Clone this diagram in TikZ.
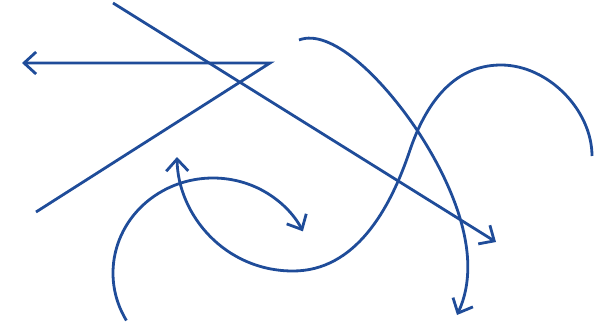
\documentclass[tikz,border=0pt]{standalone}
\usepackage{xcolor}
\usetikzlibrary{arrows.meta}
\definecolor{inkblue}{RGB}{31,76,153}
\tikzset{
  strokeline/.style={draw=inkblue, line width=2.8pt},
  strokearrow/.style={strokeline, -{Straight Barb[length=12pt, width=22pt]}},
  strokebackarrow/.style={strokeline, {Straight Barb[length=12pt, width=22pt]}-}
}

\begin{document}
\begin{tikzpicture}[x=1pt, y=-1pt]
\useasboundingbox (0,0) rectangle (597,327);
% straight strokes
\coordinate (diagA) at (113,3);
\coordinate (diagB) at (496,242);
\coordinate (zigA) at (36,212);
\coordinate (zigB) at (270,63);
\coordinate (zigC) at (22,63);
\draw[strokearrow] (diagA) -- (diagB);
\draw[strokearrow] (zigA) -- (zigB) -- (zigC);
% arc on the lower left
\coordinate (arcA) at (126.4,320.5);
\draw[strokearrow] (arcA) arc[start angle=150, end angle=334, x radius=100, y radius=95];
% long s-curve
\coordinate (sA) at (177,157);
\coordinate (sB) at (293,271);
\coordinate (sC) at (410,150);
\coordinate (sD) at (501,65);
\coordinate (sE) at (592,156);
\draw[strokebackarrow] (sA) .. controls (178,215) and (225,271) .. (sB)
  .. controls (355,271) and (390,210) .. (sC)
  .. controls (425,106) and (452,65) .. (sD)
  .. controls (548,65) and (592,110) .. (sE);
% falling curve
\coordinate (fA) at (299,40);
\coordinate (fB) at (417,130);
\coordinate (fC) at (457,315);
\draw[strokearrow] (fA) .. controls (330,28) and (380,75) .. (fB)
  .. controls (450,180) and (485,255) .. (fC);
\end{tikzpicture}
\end{document}
